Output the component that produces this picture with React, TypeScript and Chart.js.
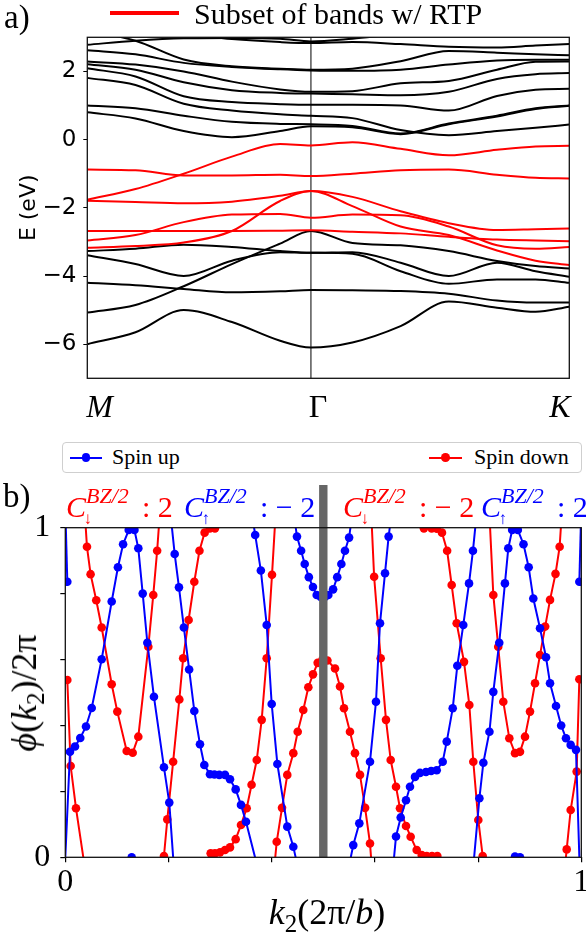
import React, { useEffect, useRef } from 'react';
import { Chart, registerables } from 'chart.js';

Chart.register(...registerables);

const SERIF = "'Liberation Serif', 'Times New Roman', serif";
const SANS = "'DejaVu Sans', sans-serif";
const RED = '#ff0000';
const BLUE = '#0000ff';
const BLACK = '#000000';

// ================= Panel a) : band structure along M - Gamma - K =================
const GAMMA = 0.464;
const pathK = [0, 0.1, 0.2, 0.3, 0.4, GAMMA, 0.55, 0.65, 0.75, 0.85, 0.93, 1];
const pathLabelPositions = [0.0253, 0.4786, 0.9807];
const pathTickLabels = ['M', 'Γ', 'K'];
const energyTicks = [-6, -4, -2, 0, 2];

// black bands (eV) at pathK
const black1 = [3.3, 3.2, 3.1, 2.95, 2.86, 2.83, 2.86, 2.8, 2.72, 2.7, 2.76, 2.8];
const black2 = [2.78, 2.9, 2.97, 2.98, 2.96, 2.88, 2.96, 3.1, 3.15, 3.1, 3.05, 3.02];
const black3 = [3.2, 2.9, 2.35, 2.15, 2.08, 2.05, 2.08, 2.3, 2.6, 2.55, 2.5, 2.47];
const black4 = [2.62, 2.5, 2.25, 2.13, 2.06, 2.03, 2.02, 2.05, 2.2, 2.32, 2.34, 2.34];
const black5 = [2.29, 2.2, 2.0, 1.7, 1.47, 1.4, 1.42, 1.65, 1.72, 2.05, 2.28, 2.29];
const black6 = [2.21, 2.05, 1.68, 1.45, 1.37, 1.35, 1.33, 1.3, 1.4, 1.78, 1.92, 1.95];
const black7 = [2.09, 1.85, 1.27, 1.1, 1.04, 1.02, 1.02, 1.0, 0.85, 1.28, 1.46, 1.49];
const black8 = [1.81, 1.6, 1.05, 0.85, 0.74, 0.7, 0.63, 0.28, 0.13, 0.25, 0.35, 0.44];
const black9 = [1.0, 0.92, 0.7, 0.52, 0.46, 0.45, 0.4, 0.18, 0.47, 0.7, 0.92, 1.0];
const black10 = [0.8, 0.62, 0.25, 0.07, 0.25, 0.39, 0.36, 0.16, 0.45, 0.68, 0.9, 0.99];
const black11 = [-3.27, -3.2, -3.08, -3.15, -3.27, -3.32, -3.3, -3.61, -4.0, -3.61, -3.86, -4.02];
const black12 = [-3.39, -3.65, -4.0, -3.55, -3.3, -3.32, -3.35, -3.86, -4.23, -4.1, -4.1, -4.2];
const black13 = [-4.2, -4.27, -4.38, -4.48, -4.45, -4.41, -4.42, -4.44, -4.52, -4.72, -4.78, -4.78];
const black14 = [-5.07, -4.85, -4.3, -3.65, -3.05, -2.68, -3.03, -3.1, -3.27, -3.56, -3.71, -3.78];
const black15 = [-6.0, -5.65, -5.0, -5.35, -5.9, -6.1, -5.95, -5.47, -4.75, -4.93, -5.05, -4.9];

// red bands (subset with RTP)
const red1 = [-1.76, -1.45, -1.0, -0.5, -0.13, -0.17, -0.08, -0.27, -0.46, -0.3, -0.2, -0.18];
const red2 = [-0.88, -0.9, -1.05, -1.05, -1.03, -1.07, -1.0, -0.9, -0.88, -1.03, -1.12, -1.14];
const red3 = [-1.79, -1.83, -1.87, -1.82, -1.65, -1.51, -1.95, -2.55, -2.8, -3.25, -3.55, -3.68];
const red4 = [-3.17, -3.12, -3.02, -2.68, -1.8, -1.51, -1.68, -2.1, -2.45, -2.65, -2.63, -2.61];
const red5 = [-2.96, -2.8, -2.42, -2.2, -2.18, -2.29, -2.2, -2.22, -2.55, -3.1, -3.2, -3.15];
const red6 = [-2.68, -2.68, -2.68, -2.68, -2.67, -2.66, -2.7, -2.75, -2.85, -2.93, -2.96, -2.98];

const blackBandList = [black1, black2, black3, black4, black5, black6, black7, black8, black9, black10, black11, black12, black13, black14, black15];
const redBandList = [red1, red2, red3, red4, red5, red6];

// ================= Panel b) : Wilson loop phases vs k2 =================
const HALF_BZ = 0.5;
const phaseTickValues = [0, 0.2, 0.4, 0.6, 0.8, 1];
const phaseTickLabels = ['0', '', '', '', '', '1'];

// spin up (blue) segments [k2, phi/2pi]
const up1 = [[0.0, 1.06], [0.0039, 0.836]];
const up2 = [[-0.0011, -0.04], [0.0091, 0.32], [0.0188, 0.336], [0.029, 0.362], [0.0401, 0.397], [0.0512, 0.453], [0.0705, 0.601], [0.0899, 0.776], [0.102, 0.88], [0.112, 0.95], [0.123, 0.993], [0.134, 0.993], [0.1415, 0.9375], [0.15, 0.8], [0.159, 0.651], [0.1718, 0.487], [0.1912, 0.273], [0.2015, 0.166], [0.2108, -0.04]];
const up3 = [[0.204, 1.04], [0.212, 0.92], [0.2203, 0.819], [0.2298, 0.697], [0.24, 0.57], [0.25, 0.444], [0.261, 0.343], [0.2694, 0.28], [0.2804, 0.252], [0.289, 0.251], [0.2984, 0.25], [0.3095, 0.25], [0.3192, 0.237], [0.3302, 0.206], [0.3405, 0.159], [0.3502, 0.108], [0.3742, -0.04]];
const up4 = [[0.362, 1.04], [0.368, 0.978], [0.379, 0.87], [0.3903, 0.705], [0.4, 0.465], [0.411, 0.283], [0.4302, 0.093], [0.4419, 0.032], [0.452, -0.04]];
const up5 = [[0.443, 1.04], [0.449, 0.973], [0.457, 0.93], [0.464, 0.89], [0.472, 0.85], [0.48, 0.82], [0.4872, 0.796], [0.495, 0.79], [0.503, 0.79], [0.5097, 0.796], [0.519, 0.813], [0.527, 0.85], [0.535, 0.89], [0.542, 0.93], [0.55, 0.97], [0.556, 1.04]];
const up6 = [[0.548, -0.04], [0.5581, 0.037], [0.5698, 0.103], [0.5905, 0.29], [0.6021, 0.472], [0.6099, 0.71], [0.6196, 0.862], [0.6266, 0.973], [0.632, 1.04]];
const up7 = [[0.6347, -0.04], [0.6409, 0.063], [0.65, 0.121], [0.6603, 0.173], [0.668, 0.214], [0.6777, 0.244], [0.6874, 0.256], [0.699, 0.259], [0.709, 0.262], [0.7198, 0.264], [0.7314, 0.29], [0.7392, 0.351], [0.7508, 0.452], [0.7597, 0.581], [0.7713, 0.705], [0.7824, 0.831], [0.79, 0.93], [0.797, 1.04]];
const up8 = [[0.79, -0.04], [0.8025, 0.179], [0.8102, 0.287], [0.822, 0.381], [0.8295, 0.502], [0.841, 0.651], [0.852, 0.831], [0.8585, 0.9375], [0.866, 0.993], [0.877, 0.993], [0.888, 0.95], [0.898, 0.88], [0.907, 0.785], [0.92, 0.695], [0.9316, 0.607], [0.9394, 0.528], [0.951, 0.459], [0.961, 0.4], [0.9703, 0.361], [0.9794, 0.341], [0.9897, 0.326], [0.997, -0.04]];
const up9 = [[0.9962, 0.836], [1.0, 1.06]];
const upWrapped = [[0.1287, 0.0], [0.8715, 0.002], [0.8812, 0.0]];

// spin down (red) segments
const dn1 = [[0.0039, 0.538], [0.0104, 0.277], [0.0207, 0.149], [0.0387, -0.04]];
const dn2 = [[0.038, 1.04], [0.042, 0.942], [0.049, 0.859], [0.06, 0.78], [0.0705, 0.697], [0.0899, 0.525], [0.1008, 0.442], [0.119, 0.3225], [0.1306, 0.317], [0.1415, 0.366], [0.1609, 0.639], [0.1705, 0.796], [0.178, 0.93], [0.183, 1.04]];
const dn3 = [[0.1886, -0.04], [0.1912, 0.004], [0.1977, 0.115], [0.209, 0.29], [0.221, 0.479], [0.2284, 0.604], [0.239, 0.72], [0.25, 0.836], [0.26, 0.93], [0.27, 0.985], [0.28, 0.998], [0.29, 0.998], [0.305, 1.03]];
const dn4 = [[0.27, -0.03], [0.2817, 0.012], [0.29, 0.012], [0.2998, 0.015], [0.3095, 0.022], [0.3192, 0.03], [0.3302, 0.055], [0.3405, 0.098], [0.3515, 0.149], [0.361, 0.22], [0.371, 0.295], [0.3806, 0.417], [0.3903, 0.604], [0.4006, 0.857], [0.4075, 1.04]];
const dn5 = [[0.4045, -0.04], [0.4097, 0.047], [0.42, 0.15], [0.4302, 0.25], [0.4419, 0.316], [0.4504, 0.381], [0.4612, 0.447], [0.471, 0.516], [0.48, 0.555], [0.4891, 0.59], [0.4985, 0.6], [0.508, 0.597], [0.5227, 0.573], [0.5324, 0.518], [0.5401, 0.452], [0.5517, 0.381], [0.5614, 0.316], [0.5711, 0.25], [0.581, 0.15], [0.5905, 0.042], [0.5945, -0.04]];
const dn6 = [[0.593, 1.04], [0.5985, 0.851], [0.6112, 0.604], [0.6215, 0.417], [0.6306, 0.295], [0.6409, 0.214], [0.6486, 0.149], [0.6603, 0.095], [0.6693, 0.0625], [0.681, 0.022], [0.6907, 0.007], [0.7004, 0.004], [0.7107, 0.004], [0.721, 0.004], [0.732, -0.03]];
const dn7 = [[0.685, 1.03], [0.695, 0.998], [0.71, 0.998], [0.72, 0.997], [0.73, 0.985], [0.74, 0.93], [0.7488, 0.826], [0.7585, 0.71], [0.7727, 0.593], [0.783, 0.462], [0.7907, 0.29], [0.8004, 0.113], [0.8089, 0.004], [0.8114, -0.04]];
const dn8 = [[0.822, 1.04], [0.8295, 0.796], [0.839, 0.639], [0.8488, 0.472], [0.8605, 0.361], [0.8715, 0.316], [0.8812, 0.32], [0.8909, 0.366], [0.9006, 0.442], [0.9103, 0.528], [0.92, 0.614], [0.93, 0.7], [0.9394, 0.781], [0.95, 0.86], [0.958, 0.942], [0.962, 1.04]];
const dn9 = [[0.9676, -0.04], [0.9717, 0.024], [0.9794, 0.1435], [0.991, 0.26], [0.9962, 0.54]];

const spinUpSegments = [up1, up2, up3, up4, up5, up6, up7, up8, up9];
const spinDownSegments = [dn1, dn2, dn3, dn4, dn5, dn6, dn7, dn8, dn9];

// ---------------- helpers ----------------
const framePlugin = {
  id: 'frameBox',
  afterDraw(chart: any) {
    const { ctx, chartArea: a } = chart;
    ctx.save();
    ctx.strokeStyle = '#111';
    ctx.lineWidth = 1.3;
    ctx.strokeRect(a.left, a.top, a.right - a.left, a.bottom - a.top);
    ctx.restore();
  },
};

const gammaLinePlugin = {
  id: 'gammaLine',
  beforeDatasetsDraw(chart: any) {
    const { ctx, chartArea: a, scales } = chart;
    const x = scales.x.getPixelForValue(GAMMA);
    ctx.save();
    ctx.strokeStyle = '#000';
    ctx.lineWidth = 1;
    ctx.beginPath();
    ctx.moveTo(x, a.top);
    ctx.lineTo(x, a.bottom);
    ctx.stroke();
    ctx.restore();
  },
};

const midBarPlugin = {
  id: 'midBar',
  afterDatasetsDraw(chart: any) {
    const { ctx, chartArea: a, scales } = chart;
    const x = scales.x.getPixelForValue(HALF_BZ);
    ctx.save();
    ctx.fillStyle = '#666666';
    ctx.fillRect(x - 4.2, 5, 8.4, a.bottom - 5);
    ctx.restore();
  },
};

const minusFmt = (v: number) => (v < 0 ? '\u2212' + Math.abs(v) : String(v));

function bandDataset(values: number[], color: string) {
  return {
    data: pathK.map((k, i) => ({ x: k, y: values[i] })),
    borderColor: color,
    backgroundColor: color,
    borderWidth: 2,
    pointRadius: 0,
    cubicInterpolationMode: 'monotone',
    fill: false,
  };
}

const inside = (r: any) => r && r.y >= -0.001 && r.y <= 1.001 && r.x >= -0.001 && r.x <= 1.001;

function phaseDataset(points: number[][], color: string, showLine = true) {
  return {
    data: points.map(([x, y]) => ({ x, y })),
    borderColor: color,
    backgroundColor: color,
    pointBackgroundColor: color,
    pointBorderWidth: 0,
    borderWidth: 2,
    showLine,
    tension: 0,
    pointRadius: (ctx: any) => (inside(ctx.raw) ? 4.3 : 0),
  };
}

function Ann({ left, color, arrow, tail }: { left: number; color: string; arrow: string; tail: string }) {
  return (
    <>
      <div style={{ position: 'absolute', left, top: 492, fontSize: 30, lineHeight: 1, fontStyle: 'italic', color, whiteSpace: 'nowrap' }}>C</div>
      <div style={{ position: 'absolute', left: left + 20, top: 484.6, fontSize: 22, lineHeight: 1, fontStyle: 'italic', color, whiteSpace: 'nowrap' }}>BZ/2</div>
      <div style={{ position: 'absolute', left: left + 17.5, top: 510, fontSize: 17, lineHeight: 1, color, whiteSpace: 'nowrap' }}>{arrow}</div>
      <div style={{ position: 'absolute', left: left + 76, top: 492, fontSize: 30, lineHeight: 1, color, whiteSpace: 'pre' }}>{tail}</div>
    </>
  );
}

export default function App() {
  const topRef = useRef<HTMLCanvasElement>(null);
  const botRef = useRef<HTMLCanvasElement>(null);

  useEffect(() => {
    const topChart = new Chart(topRef.current as HTMLCanvasElement, {
      type: 'line',
      data: {
        datasets: [
          ...redBandList.map((b) => bandDataset(b, RED)),
          ...blackBandList.map((b) => bandDataset(b, BLACK)),
        ] as any,
      },
      options: {
        animation: false,
        responsive: false,
        maintainAspectRatio: false,
        devicePixelRatio: 1,
        events: [],
        layout: { padding: { left: 0, right: 16.7, top: 37.3, bottom: 0 } },
        plugins: { legend: { display: false }, tooltip: { enabled: false } },
        scales: {
          x: {
            type: 'linear',
            min: 0,
            max: 1,
            afterBuildTicks: (s: any) => {
              s.ticks = pathLabelPositions.map((v) => ({ value: v }));
            },
            afterFit: (s: any) => {
              s.height = 41.7;
              s.paddingLeft = 0;
              s.paddingRight = 0;
            },
            ticks: {
              autoSkip: false,
              maxRotation: 0,
              padding: 3,
              color: '#000',
              callback: (v: any) => {
                const i = pathLabelPositions.indexOf(v);
                return i >= 0 ? pathTickLabels[i] : '';
              },
              font: (ctx: any) => ({
                family: SERIF,
                size: 32,
                style: ctx.tick && ctx.tick.value === pathLabelPositions[1] ? 'normal' : 'italic',
              }),
            },
            grid: { display: false },
            border: { display: false },
          },
          y: {
            type: 'linear',
            min: -7,
            max: 3,
            afterBuildTicks: (s: any) => {
              s.ticks = energyTicks.map((v) => ({ value: v }));
            },
            afterFit: (s: any) => {
              s.width = 87.3;
              s.paddingTop = 0;
              s.paddingBottom = 0;
            },
            ticks: {
              padding: 7,
              color: '#000',
              font: { family: SANS, size: 23 },
              callback: (v: any) => minusFmt(v),
            },
            grid: { drawOnChartArea: false, drawTicks: true, tickLength: 4, color: '#000', lineWidth: 1 },
            border: { display: false },
            title: {
              display: true,
              text: 'E (eV)',
              color: '#000',
              font: { family: SANS, size: 22 },
              padding: { top: 16, bottom: 0 },
            },
          },
        },
      } as any,
      plugins: [gammaLinePlugin, framePlugin],
    });

    const botChart = new Chart(botRef.current as HTMLCanvasElement, {
      type: 'scatter',
      data: {
        datasets: [
          ...spinUpSegments.map((s) => phaseDataset(s, BLUE)),
          phaseDataset(upWrapped, BLUE, false),
          ...spinDownSegments.map((s) => phaseDataset(s, RED)),
        ] as any,
      },
      options: {
        animation: false,
        responsive: false,
        maintainAspectRatio: false,
        devicePixelRatio: 1,
        events: [],
        layout: { padding: { left: 0, right: 4.7, top: 47.7, bottom: 0 } },
        plugins: { legend: { display: false }, tooltip: { enabled: false } },
        scales: {
          x: {
            type: 'linear',
            min: 0,
            max: 1,
            afterBuildTicks: (s: any) => {
              s.ticks = phaseTickValues.map((v) => ({ value: v }));
            },
            afterFit: (s: any) => {
              s.height = 81.7;
              s.paddingLeft = 0;
              s.paddingRight = 0;
            },
            ticks: {
              autoSkip: false,
              maxRotation: 0,
              padding: 1,
              color: '#000',
              font: { family: SERIF, size: 32 },
              callback: (v: any) => {
                const i = phaseTickValues.indexOf(v);
                return i >= 0 ? phaseTickLabels[i] : '';
              },
            },
            grid: { drawOnChartArea: false, drawTicks: true, tickLength: 5, color: '#000', lineWidth: 1.2 },
            border: { display: false },
          },
          y: {
            type: 'linear',
            min: 0,
            max: 1,
            afterBuildTicks: (s: any) => {
              s.ticks = phaseTickValues.map((v) => ({ value: v }));
            },
            afterFit: (s: any) => {
              s.width = 65.3;
              s.paddingTop = 0;
              s.paddingBottom = 0;
            },
            ticks: {
              padding: 10,
              color: '#000',
              font: { family: SERIF, size: 32 },
              callback: (v: any) => {
                const i = phaseTickValues.indexOf(v);
                return i >= 0 ? phaseTickLabels[i] : '';
              },
            },
            grid: { drawOnChartArea: false, drawTicks: true, tickLength: 5, color: '#000', lineWidth: 1.2 },
            border: { display: false },
          },
        },
      } as any,
      plugins: [midBarPlugin, framePlugin],
    });

    return () => {
      topChart.destroy();
      botChart.destroy();
    };
  }, []);

  const abs = (extra: React.CSSProperties): React.CSSProperties => ({ position: 'absolute', lineHeight: 1, whiteSpace: 'nowrap', ...extra });

  return (
    <div style={{ position: 'absolute', left: 0, top: 0, width: 586, height: 939, background: '#fff', overflow: 'hidden', fontFamily: SERIF, color: '#000' }}>
      <canvas ref={topRef} width={586} height={420} style={{ position: 'absolute', left: 0, top: 0, width: 586, height: 420 }} />
      <canvas ref={botRef} width={586} height={459} style={{ position: 'absolute', left: 0, top: 480, width: 586, height: 459 }} />

      {/* panel a labels */}
      <div style={abs({ left: 4, top: 1, fontSize: 33 })}>a)</div>
      <div style={{ position: 'absolute', left: 110, top: 10.7, width: 69, height: 4, background: RED }} />
      <div style={abs({ left: 194, top: -1, fontSize: 30 })}>Subset of bands w/ RTP</div>

      {/* panel b legend */}
      <div style={{ position: 'absolute', left: 62, top: 442, width: 520, height: 31, border: '1px solid #cfcfcf', borderRadius: 4, boxSizing: 'border-box', background: '#fff' }} />
      <div style={{ position: 'absolute', left: 70, top: 456.5, width: 32, height: 2, background: BLUE }} />
      <div style={{ position: 'absolute', left: 81.7, top: 453.2, width: 8.6, height: 8.6, borderRadius: '50%', background: BLUE }} />
      <div style={abs({ left: 112, top: 445.6, fontSize: 22 })}>Spin up</div>
      <div style={{ position: 'absolute', left: 429, top: 456.5, width: 33, height: 2, background: RED }} />
      <div style={{ position: 'absolute', left: 441.2, top: 453.2, width: 8.6, height: 8.6, borderRadius: '50%', background: RED }} />
      <div style={abs({ left: 474, top: 445.6, fontSize: 22 })}>Spin down</div>

      {/* panel b labels */}
      <div style={abs({ left: 3, top: 480, fontSize: 33 })}>b)</div>
      <Ann left={66} color={RED} arrow={'\u2193'} tail={': 2'} />
      <Ann left={184} color={BLUE} arrow={'\u2191'} tail={': \u2212 2'} />
      <Ann left={343} color={RED} arrow={'\u2193'} tail={': \u2212 2'} />
      <Ann left={481} color={BLUE} arrow={'\u2191'} tail={': 2'} />

      <div style={abs({ left: 327, top: 894, fontSize: 36, transform: 'translateX(-50%)' })}>
        <i>k</i>
        <span style={{ fontSize: 25, position: 'relative', top: 8 }}>2</span>
        (2π/<i>b</i>)
      </div>
      <div style={abs({ left: 24, top: 693, fontSize: 36, transform: 'translate(-50%, -50%) rotate(-90deg)' })}>
        <i>ϕ</i>(<i>k</i>
        <span style={{ fontSize: 25, position: 'relative', top: 8 }}>2</span>
        )/2π
      </div>
    </div>
  );
}
